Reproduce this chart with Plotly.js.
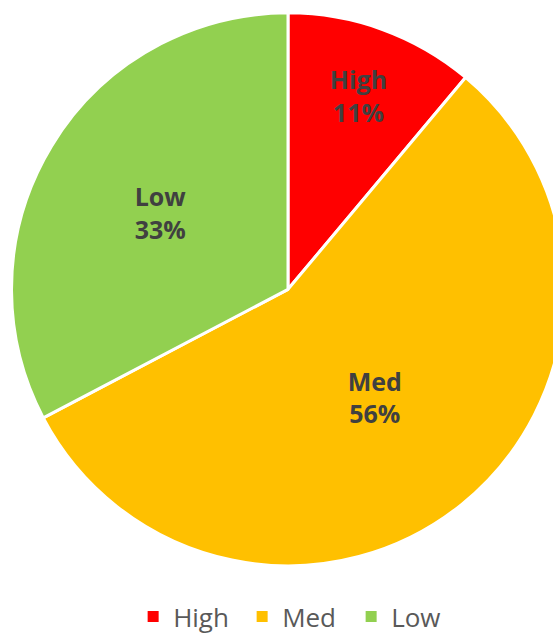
<!DOCTYPE html>
<html>
<head>
<meta charset="utf-8">
<script src="https://cdn.plot.ly/plotly-3.0.1.min.js"></script>
<style>
html, body { margin: 0; padding: 0; overflow: hidden; background: #fff; }
#chart { width: 576px; height: 635px; }
</style>
</head>
<body>
<div id="chart"></div>
<script>
const categories = ["High", "Med", "Low"];
const values = [11.1, 56.2, 32.7];
const colors = ["#FF0000", "#FFC000", "#92D050"];

const trace = {
  type: "pie",
  labels: categories,
  values: values,
  sort: false,
  direction: "clockwise",
  rotation: 0,
  marker: { colors: colors, line: { color: "#FFFFFF", width: 3 } },
  texttemplate: "<b>%{label}</b><br><b>%{percent:.0%}</b>",
  textposition: "inside",
  insidetextorientation: "horizontal",
  textfont: { family: "Open Sans, sans-serif", size: 25, color: "#404040" },
  hoverinfo: "none",
  domain: { x: [0, 1], y: [0.0976, 0.9795] }
};

const layout = {
  width: 576,
  height: 635,
  margin: { l: 0, r: 0, t: 0, b: 0 },
  paper_bgcolor: "#FFFFFF",
  showlegend: true,
  legend: {
    orientation: "h",
    x: 0.515, xanchor: "center",
    y: -0.013, yanchor: "bottom",
    font: { family: "Open Sans, sans-serif", size: 26, color: "#595959" },
    entrywidth: 64
  }
};

Plotly.newPlot("chart", [trace], layout, { staticPlot: true, displayModeBar: false }).then(function () {
  document.querySelectorAll("#chart .legendpoints path").forEach(function (p) {
    p.setAttribute("d", "M7,7H-7V-7H7Z");
  });
  const lg = document.querySelector("#chart .legend");
  if (lg) {
    const t = lg.getAttribute("transform") || "";
    const m = t.match(/translate\(\s*([-\d.]+)[ ,]+([-\d.]+)\s*\)/);
    if (m) {
      lg.setAttribute("transform", "translate(" + m[1] + "," + (parseFloat(m[2]) + 5) + ")");
    }
  }
});
</script>
</body>
</html>
